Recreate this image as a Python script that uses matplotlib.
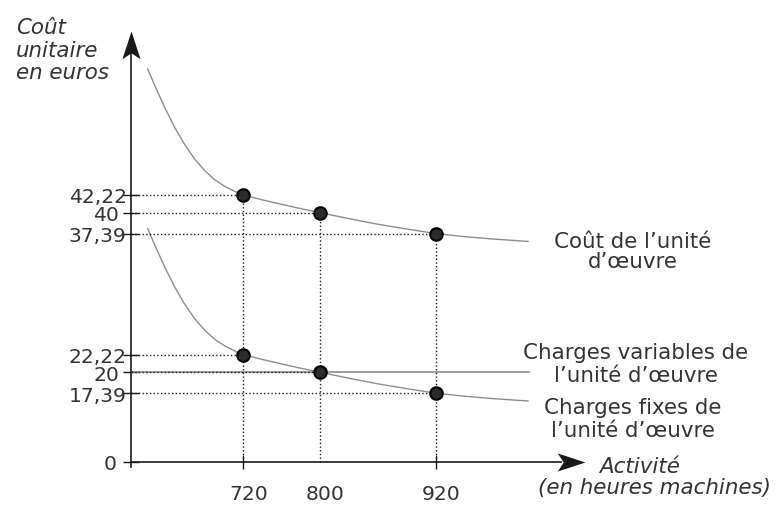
import numpy as np
import matplotlib
matplotlib.use("Agg")
import matplotlib.pyplot as plt
from matplotlib.path import Path
from matplotlib.transforms import ScaledTranslation

# activity levels (hours) and unit costs
activite = [720, 800, 920]
cout_unite = [42.22, 40, 37.39]
charges_fixes = [22.22, 20, 17.39]
charges_variables = 20

# sampled curves
x_courbe = [620.6, 628.2, 638.6, 649.0, 659.4, 669.8, 680.2, 690.6, 701.0, 711.4, 720,
            740, 760, 780, 800, 830, 860, 890, 920, 950, 980, 1016]
y_cout = [58.01, 55.88, 53.12, 50.62, 48.48, 46.67, 45.23, 44.10, 43.28, 42.66, 42.22,
          41.6, 41.05, 40.5, 40.0, 39.25, 38.55, 37.95, 37.39, 37.0, 36.7, 36.4]
y_fixes = [38.01, 35.88, 33.12, 30.62, 28.48, 26.67, 25.23, 24.10, 23.28, 22.66, 22.22,
           21.6, 21.05, 20.5, 20.0, 19.25, 18.55, 17.95, 17.39, 17.0, 16.7, 16.4]

yticks = [8.76, 17.39, 20, 22.22, 37.39, 40, 42.22]
ytick_labels = ['0', '17,39', '20', '22,22', '37,39', '40', '42,22']

X0, Y0 = 603.3, 8.76      # where the drawn axes cross
XEND, YEND = 1075, 62.8   # arrow tips

TXT = '#333333'
INK = '#1a1a1a'
GREY = '#8c8c8c'
FS = 14.6
FL = 15.4

fig = plt.figure(figsize=(7.77, 5.06), dpi=100)
ax = fig.add_axes([0, 0, 1, 1])
ax.set_xlim(467.1, 1274.8)
ax.set_ylim(3.37, 66.78)
ax.patch.set_visible(False)

for s in ['top', 'right']:
    ax.spines[s].set_visible(False)
ax.spines['left'].set_position(('data', X0))
ax.spines['bottom'].set_position(('data', Y0))
ax.spines['left'].set_bounds(8.1, YEND - 2.5)
ax.spines['bottom'].set_bounds(X0, XEND - 25)
for s in ['left', 'bottom']:
    ax.spines[s].set_color(INK)
    ax.spines[s].set_linewidth(1.2)

# arrow heads
up = Path([(0, 0), (9, -27.6), (0, -21.6), (-9, -27.6), (0, 0)],
          [Path.MOVETO, Path.LINETO, Path.LINETO, Path.LINETO, Path.CLOSEPOLY])
right = Path([(0, 0), (-27.6, 9), (-21.6, 0), (-27.6, -9), (0, 0)],
             [Path.MOVETO, Path.LINETO, Path.LINETO, Path.LINETO, Path.CLOSEPOLY])
ax.plot([X0], [YEND], marker=up, markersize=40, color=INK, mew=0, clip_on=False)
ax.plot([XEND], [Y0], marker=right, markersize=40, color=INK, mew=0, clip_on=False)

# curves
ax.plot(x_courbe, y_cout, color=GREY, lw=1.0, solid_joinstyle='round')
ax.plot(x_courbe, y_fixes, color=GREY, lw=1.0, solid_joinstyle='round')
ax.hlines(charges_variables, X0, x_courbe[-1] + 2, color=GREY, lw=1.2)

# dotted guides
for x, yc, yf in zip(activite, cout_unite, charges_fixes):
    ax.hlines([yc, yf], X0, x, color=INK, lw=1.0, linestyles=':')
    ax.vlines(x, Y0, yc, color=INK, lw=1.0, linestyles=':')

ax.plot(activite, cout_unite, 'o', ms=9, mfc='#2b2b2b', mec='black', mew=1.5, zorder=5)
ax.plot(activite, charges_fixes, 'o', ms=9, mfc='#2b2b2b', mec='black', mew=1.5, zorder=5)

# ticks
ax.set_yticks(yticks)
ax.set_yticklabels(ytick_labels)
ax.set_xticks(activite)
ax.set_xticklabels([str(a) for a in activite])
ax.tick_params(axis='y', direction='inout', length=11, width=1, color=INK,
               labelsize=FS, labelcolor=TXT, pad=-2.4)
ax.tick_params(axis='x', direction='inout', length=10, width=1, color=INK,
               labelsize=FS, labelcolor=TXT, pad=11)
ticks = ax.yaxis.get_major_ticks()
ticks[0].set_pad(4.6)
ticks[2].set_pad(3.2)
ticks[5].set_pad(3.2)
xt = ax.xaxis.get_major_ticks()
xt[1].tick1line.set_visible(False)
for lab in ax.get_xticklabels():
    lab.set_transform(lab.get_transform() + ScaledTranslation(0.05, 0, fig.dpi_scale_trans))

# labels
ax.text(483.7, 60.45, 'Coût\nunitaire\nen euros', style='italic', fontsize=FL,
        color=TXT, ha='left', va='center', linespacing=1.15)
ax.text(1132.4, 8.3, 'Activité', style='italic', fontsize=FL, color=TXT,
        ha='center', va='center')
ax.text(1147.9, 5.6, '(en heures machines)', style='italic', fontsize=FL,
        color=TXT, ha='center', va='center')

ax.text(1125, 35.2, 'Coût de l’unité\nd’œuvre', fontsize=FL, color=TXT,
        ha='center', va='center', multialignment='center', linespacing=1.05)
ax.text(1128, 21.1, 'Charges variables de\nl’unité d’œuvre', fontsize=FL,
        color=TXT, ha='center', va='center', multialignment='center', linespacing=1.15)
ax.text(1125, 14.2, 'Charges fixes de\nl’unité d’œuvre', fontsize=FL,
        color=TXT, ha='center', va='center', multialignment='center', linespacing=1.15)

fig.savefig('out.png', dpi=100)
